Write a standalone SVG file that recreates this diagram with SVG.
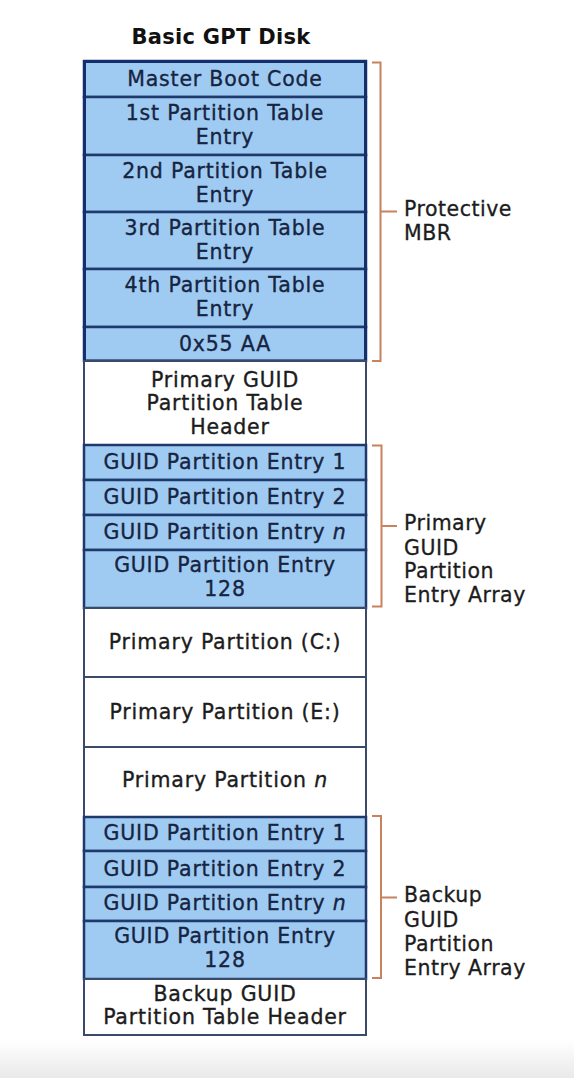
<svg xmlns="http://www.w3.org/2000/svg" width="574" height="1078" viewBox="0 0 574 1078">
<defs>
<linearGradient id="bg" x1="0" y1="0" x2="0" y2="1">
<stop offset="0" stop-color="#ffffff"/>
<stop offset="1" stop-color="#e9e9e9"/>
</linearGradient>
<style>
text{font-family:"DejaVu Sans","Verdana",sans-serif;font-size:20.5px;letter-spacing:0.5px}
.t{text-anchor:middle;fill:#17243f;stroke:#17243f;stroke-width:0.35;letter-spacing:0.8px}
.w{text-anchor:middle;fill:#1c1c1c;stroke:#1c1c1c;stroke-width:0.35;letter-spacing:0.8px}
.lab{fill:#1c1c1c;stroke:#1c1c1c;stroke-width:0.3}
.title{font-weight:bold;font-size:21px;text-anchor:middle;fill:#111111;letter-spacing:0.3px}
.blue{fill:#9fcbf3;stroke:#1e3a6c;stroke-width:2.5}
.white{fill:#ffffff;stroke:#3a4a68;stroke-width:2}
.br{fill:none;stroke:#c8825e;stroke-width:2}
</style>
</defs>
<rect x="0" y="0" width="574" height="1078" fill="#ffffff"/>
<rect x="0" y="1040" width="574" height="38" fill="url(#bg)"/>
<text class="title" x="221" y="44">Basic GPT Disk</text>

<g id="mbr-master"><rect class="blue" x="84" y="61" width="282" height="36"/><text class="t" x="225" y="86">Master Boot Code</text></g>
<g id="mbr-pt1"><rect class="blue" x="84" y="97" width="282" height="58"/><text class="t" x="225" y="120">1st Partition Table</text><text class="t" x="225" y="144">Entry</text></g>
<g id="mbr-pt2"><rect class="blue" x="84" y="155" width="282" height="57"/><text class="t" x="225" y="178">2nd Partition Table</text><text class="t" x="225" y="202">Entry</text></g>
<g id="mbr-pt3"><rect class="blue" x="84" y="212" width="282" height="57"/><text class="t" x="225" y="235">3rd Partition Table</text><text class="t" x="225" y="259">Entry</text></g>
<g id="mbr-pt4"><rect class="blue" x="84" y="269" width="282" height="58"/><text class="t" x="225" y="292">4th Partition Table</text><text class="t" x="225" y="316">Entry</text></g>
<g id="mbr-sig"><rect class="blue" x="84" y="327" width="282" height="34"/><text class="t" x="225" y="351">0x55 AA</text></g>
<g id="mbr-outer"><rect x="84.5" y="61.5" width="281" height="299.5" fill="none" stroke="#14306c" stroke-width="3"/></g>

<g id="primary-header"><rect class="white" x="84" y="361" width="282" height="84"/><text class="w" x="225" y="387">Primary GUID</text><text class="w" x="225" y="410">Partition Table</text><text class="w" x="230" y="434">Header</text></g>
<g id="p-entry1"><rect class="blue" x="84" y="445" width="282" height="35"/><text class="t" x="225" y="469">GUID Partition Entry 1</text></g>
<g id="p-entry2"><rect class="blue" x="84" y="480" width="282" height="35"/><text class="t" x="225" y="504">GUID Partition Entry 2</text></g>
<g id="p-entryn"><rect class="blue" x="84" y="515" width="282" height="35"/><text class="t" x="225" y="539">GUID Partition Entry <tspan font-style="italic">n</tspan></text></g>
<g id="p-entry128"><rect class="blue" x="84" y="550" width="282" height="58"/><text class="t" x="225" y="572">GUID Partition Entry</text><text class="t" x="225" y="596">128</text></g>

<g id="part-c"><rect class="white" x="84" y="608" width="282" height="69"/><text class="w" x="225" y="649">Primary Partition (C:)</text></g>
<g id="part-e"><rect class="white" x="84" y="677" width="282" height="70"/><text class="w" x="225" y="719">Primary Partition (E:)</text></g>
<g id="part-n"><rect class="white" x="84" y="747" width="282" height="70"/><text class="w" x="225" y="787">Primary Partition <tspan font-style="italic">n</tspan></text></g>

<g id="b-entry1"><rect class="blue" x="84" y="817" width="282" height="34"/><text class="t" x="225" y="840">GUID Partition Entry 1</text></g>
<g id="b-entry2"><rect class="blue" x="84" y="851" width="282" height="36"/><text class="t" x="225" y="876">GUID Partition Entry 2</text></g>
<g id="b-entryn"><rect class="blue" x="84" y="887" width="282" height="34"/><text class="t" x="225" y="910">GUID Partition Entry <tspan font-style="italic">n</tspan></text></g>
<g id="b-entry128"><rect class="blue" x="84" y="921" width="282" height="58"/><text class="t" x="225" y="943">GUID Partition Entry</text><text class="t" x="225" y="967">128</text></g>
<g id="backup-header"><rect class="white" x="84" y="979" width="282" height="56"/><text class="w" x="225" y="1001">Backup GUID</text><text class="w" x="225" y="1024">Partition Table Header</text></g>

<g id="connectors">
<path class="br" d="M372 62.5 H380.5 V361 H372 M380.5 211.5 H397"/>
<path class="br" d="M372 445.5 H381.5 V606.5 H372 M381.5 526 H397"/>
<path class="br" d="M372 816 H381 V978 H372 M381 897.5 H397"/>
</g>

<g id="label-mbr"><text class="lab" x="404" y="216">Protective</text><text class="lab" x="404" y="240">MBR</text></g>
<g id="label-primary"><text class="lab" x="404" y="530">Primary</text><text class="lab" x="404" y="555">GUID</text><text class="lab" x="404" y="578">Partition</text><text class="lab" x="404" y="602">Entry Array</text></g>
<g id="label-backup"><text class="lab" x="404" y="902">Backup</text><text class="lab" x="404" y="927">GUID</text><text class="lab" x="404" y="951">Partition</text><text class="lab" x="404" y="975">Entry Array</text></g>
</svg>
